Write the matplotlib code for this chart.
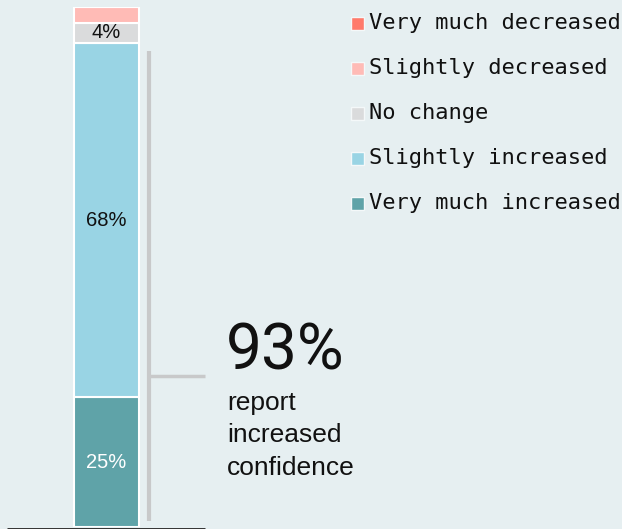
import matplotlib.pyplot as plt
from matplotlib.patches import Rectangle

# Survey answers, bottom of the stack first
categories = ["Very much increased", "Slightly increased", "No change",
              "Slightly decreased", "Very much decreased"]
values = [25, 68, 4, 3, 0]
colors = ["#5fa3a8", "#99d4e4", "#dadbdc", "#ffbbb6", "#ff7a6b"]
label_colors = ["white", "#111111", "#111111", "#111111", "#111111"]

headline = "93%"
headline_lines = ["report", "increased", "confidence"]

bg = "#e6eff1"
W, H = 622, 529

fig = plt.figure(figsize=(W / 100, H / 100), dpi=100)
fig.patch.set_facecolor(bg)

# main axes: x in pixels, y in percent (0% at the baseline, 100% at the top)
ax = fig.add_axes([0, 2 / H, 1, 520 / H])
ax.set_facecolor(bg)
ax.set_xlim(0, W)
ax.set_ylim(0, 100)
ax.axis("off")

bar_x, bar_w = 106, 65
bottom = 0
for val, col, lc in zip(values, colors, label_colors):
    ax.bar(bar_x, val, width=bar_w, bottom=bottom, color=col,
           edgecolor="white", linewidth=1.5)
    if val >= 4:
        ax.text(bar_x, bottom + val / 2, f"{val}%", ha="center", va="center",
                fontsize=14.5, color=lc, family="Liberation Sans")
    bottom += val

# baseline
ax.plot([7, 205], [-0.3, -0.3], color="#222222", lw=2, clip_on=False,
        solid_capstyle="butt")

# bracket for the increased share
ax.plot([148.5, 148.5], [1.2, 91.5], color="#c8c9ca", lw=3,
        solid_capstyle="butt")
ax.plot([148.5, 205], [29.0, 29.0], color="#c8c9ca", lw=2.5,
        solid_capstyle="butt")

# overlay in pixel coordinates for the annotation and legend
ov = fig.add_axes([0, 0, 1, 1])
ov.set_xlim(0, W)
ov.set_ylim(H, 0)
ov.axis("off")
ov.patch.set_alpha(0)

ov.text(226, 370, headline, fontsize=46, family="Roboto",
        color="#111111", va="baseline", ha="left")
for i, line in enumerate(headline_lines):
    ov.text(227, 410 + 32.5 * i, line, fontsize=19, family="Liberation Sans",
            color="#111111", va="baseline", ha="left")

# legend, top entry is the last category
for i, (cat, col) in enumerate(zip(categories[::-1], colors[::-1])):
    yc = 23 + 45 * i
    ov.add_patch(Rectangle((351, yc - 6.5), 13, 13, facecolor=col,
                           edgecolor="#f4f8f9", lw=1))
    ov.text(369, yc, cat, fontsize=15.8, family="DejaVu Sans Mono",
            color="#111111", va="center", ha="left")

fig.savefig("out.png", dpi=100, facecolor=bg)
